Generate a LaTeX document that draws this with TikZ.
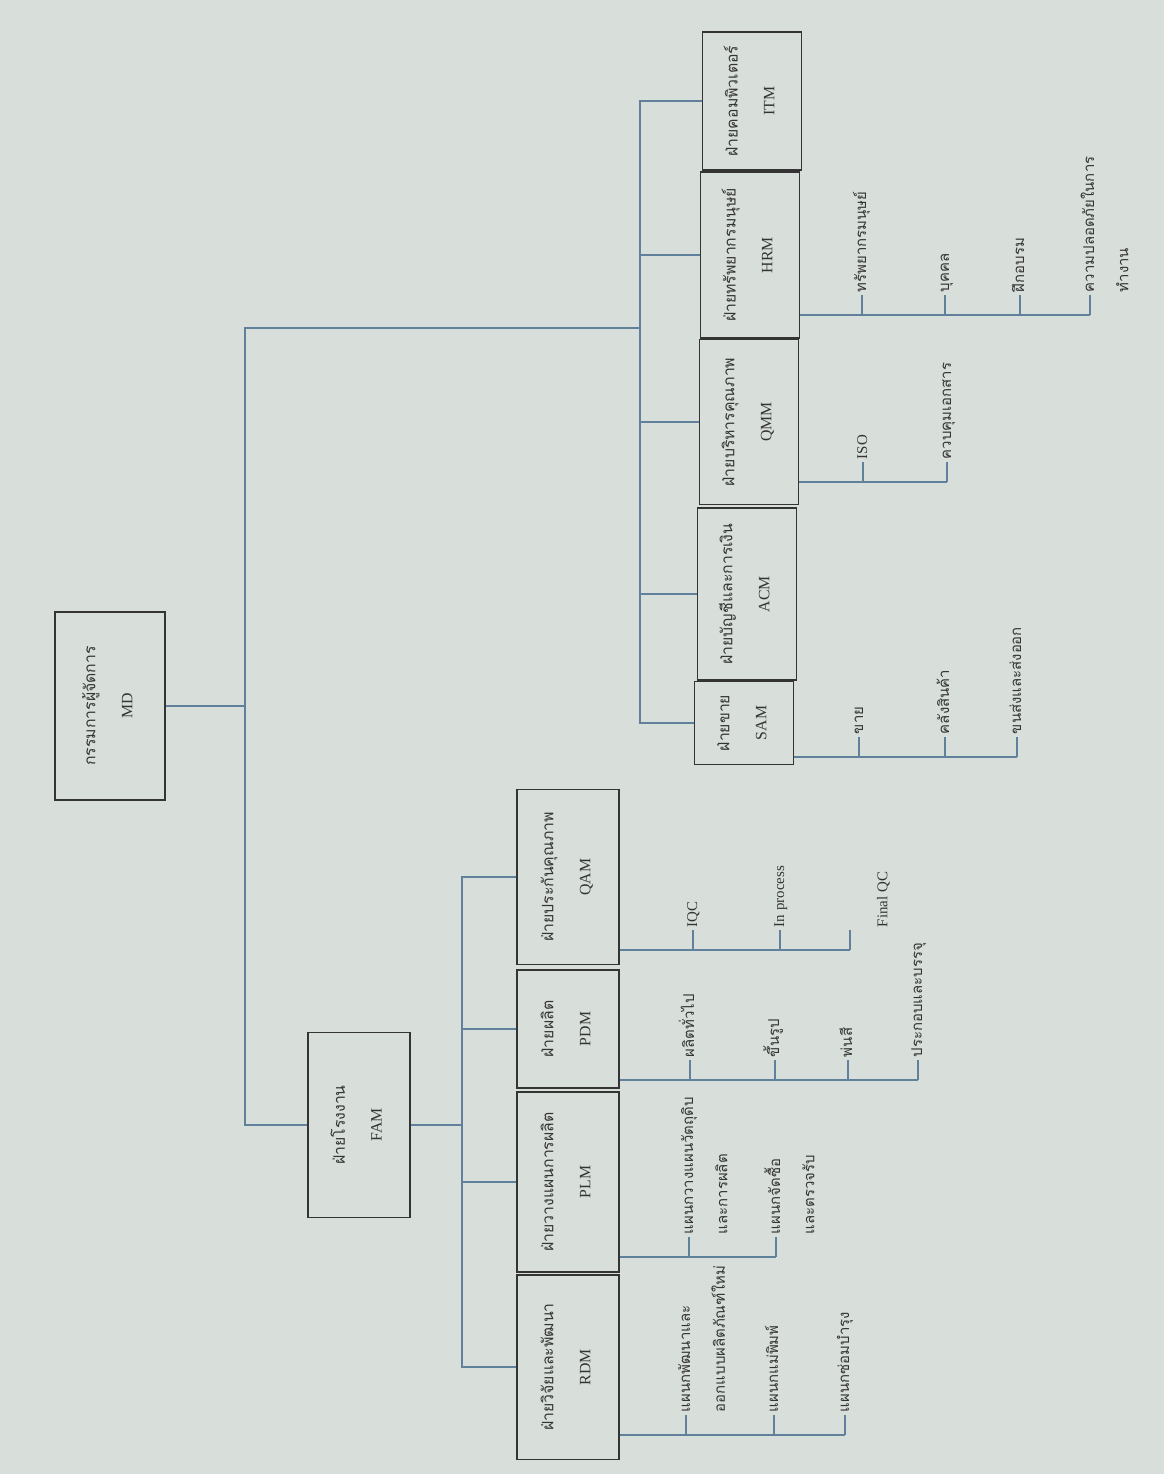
\documentclass[tikz,border=0pt]{standalone}
\usepackage{fontspec}
\setmainfont{Liberation Serif}
\newfontfamily\thaifont[Script=Thai]{Loma}
\usepackage{graphicx}
\usepackage{tikz}
\usetikzlibrary{positioning,calc}
\definecolor{paper}{RGB}{216,223,219}
\definecolor{wire}{RGB}{96,128,156}
\definecolor{ink}{RGB}{52,52,52}
\newcommand\unitbox[2]{\rotatebox{90}{\begin{tabular}{@{}c@{}}{\thaifont #1}\\[10pt] #2\end{tabular}}}
\newcommand\twoline[2]{\begin{tabular}[t]{@{}l@{}}#1\\[9pt] #2\end{tabular}}

\begin{document}
\begin{tikzpicture}[x=0.02cm, y=-0.02cm,
    unit/.style={draw=ink, line width=1.1pt, text=ink, inner sep=0pt,
      minimum width=2.04cm, font=\fontsize{9}{11}\selectfont},
    leaf/.style={rotate=90, anchor=mid west, inner sep=1.5pt, text=ink,
      font=\thaifont\fontsize{8.5}{10.5}\selectfont},
    leafen/.style={leaf, font=\fontsize{8.5}{10}\selectfont},
    link/.style={draw=wire, line width=0.9pt}
  ]
  \useasboundingbox (0,0) rectangle (1164,1474);
  \fill[paper] (0,0) rectangle (1164,1474);

  % top level and the factory
  \node[unit, minimum width=2.2cm, minimum height=3.76cm] (MD) at (110,706) {\unitbox{กรรมการผู้จัดการ}{MD}};
  \node[unit, minimum height=3.7cm] (FAM) at (359,1125) {\unitbox{ฝ่ายโรงงาน}{FAM}};

  % factory units
  \node[unit, minimum height=3.5cm] (QAM) at (568,877) {\unitbox{ฝ่ายประกันคุณภาพ}{QAM}};
  \node[unit, minimum height=2.36cm] (PDM) at (568,1029) {\unitbox{ฝ่ายผลิต}{PDM}};
  \node[unit, minimum height=3.6cm] (PLM) at (568,1182) {\unitbox{ฝ่ายวางแผนการผลิต}{PLM}};
  \node[unit, minimum height=3.7cm] (RDM) at (568,1367) {\unitbox{ฝ่ายวิจัยและพัฒนา}{RDM}};

  % office units
  \node[unit, minimum width=1.98cm, minimum height=2.76cm] (ITM) at (752,101) {\unitbox{ฝ่ายคอมพิวเตอร์}{ITM}};
  \node[unit, minimum width=1.98cm, minimum height=3.32cm] (HRM) at (750,255) {\unitbox{ฝ่ายทรัพยากรมนุษย์}{HRM}};
  \node[unit, minimum width=1.98cm, minimum height=3.3cm] (QMM) at (749,422) {\unitbox{ฝ่ายบริหารคุณภาพ}{QMM}};
  \node[unit, minimum width=1.98cm, minimum height=3.44cm] (ACM) at (747,594) {\unitbox{ฝ่ายบัญชีและการเงิน}{ACM}};
  \node[unit, minimum width=1.98cm, minimum height=1.66cm] (SAM) at (744,723) {\unitbox{ฝ่ายขาย}{SAM}};

  % spines
  \coordinate (spT) at (245,328);
  \coordinate (rsp) at (640,0);
  \coordinate (lsp) at (462,0);
  \draw[link] (MD.east) -- (MD.east -| spT);
  \draw[link] (FAM.west) -- (FAM.west -| spT) -- (spT) -- (spT -| rsp);
  \draw[link] (ITM.west) -- (ITM.west -| rsp) -- (SAM.west -| rsp) -- (SAM.west);
  \foreach \n in {HRM,QMM,ACM}
    \draw[link] (\n.west) -- (\n.west -| rsp);
  \draw[link] (FAM.east) -- (FAM.east -| lsp);
  \draw[link] (QAM.west) -- (QAM.west -| lsp) -- (RDM.west -| lsp) -- (RDM.west);
  \foreach \n in {PDM,PLM}
    \draw[link] (\n.west) -- (\n.west -| lsp);

  % sections of RDM
  \coordinate (rdT) at (845,1435);
  \draw[link] (RDM.east |- rdT) -- (rdT);
  \node[leaf] (rd1) at (686,1415) {\twoline{แผนกพัฒนาและ}{ออกแบบผลิตภัณฑ์ใหม่}};
  \node[leaf] (rd2) at (774,1415) {แผนกแม่พิมพ์};
  \node[leaf] (rd3) at (845,1415) {แผนกซ่อมบำรุง};
  \foreach \n in {rd1,rd2,rd3}
    \draw[link] (\n.mid west) -- (\n.mid west |- rdT);

  % sections of PLM
  \coordinate (plT) at (776,1257);
  \draw[link] (PLM.east |- plT) -- (plT);
  \node[leaf] (pl1) at (689,1237) {\twoline{แผนกวางแผนวัตถุดิบ}{และการผลิต}};
  \node[leaf] (pl2) at (776,1237) {\twoline{แผนกจัดซื้อ}{และตรวจรับ}};
  \foreach \n in {pl1,pl2}
    \draw[link] (\n.mid west) -- (\n.mid west |- plT);

  % sections of PDM
  \coordinate (pdT) at (918,1080);
  \draw[link] (PDM.east |- pdT) -- (pdT);
  \node[leaf] (pd1) at (690,1060) {ผลิตทั่วไป};
  \node[leaf] (pd2) at (775,1060) {ขึ้นรูป};
  \node[leaf] (pd3) at (848,1060) {พ่นสี};
  \node[leaf] (pd4) at (918,1060) {ประกอบและบรรจุ};
  \foreach \n in {pd1,pd2,pd3,pd4}
    \draw[link] (\n.mid west) -- (\n.mid west |- pdT);

  % sections of QAM
  \coordinate (qaT) at (850,950);
  \draw[link] (QAM.east |- qaT) -- (qaT);
  \node[leafen] (qa1) at (693,930) {IQC};
  \node[leafen] (qa2) at (780,930) {In process};
  \node[leafen] (qa3) at (850,930) {\twoline{}{Final QC}};
  \foreach \n in {qa1,qa2,qa3}
    \draw[link] (\n.mid west) -- (\n.mid west |- qaT);

  % sections of SAM
  \coordinate (saT) at (1017,757);
  \draw[link] (SAM.east |- saT) -- (saT);
  \node[leaf] (sa1) at (859,737) {ขาย};
  \node[leaf] (sa2) at (945,737) {คลังสินค้า};
  \node[leaf] (sa3) at (1017,737) {ขนส่งและส่งออก};
  \foreach \n in {sa1,sa2,sa3}
    \draw[link] (\n.mid west) -- (\n.mid west |- saT);

  % sections of QMM
  \coordinate (qmT) at (947,482);
  \draw[link] (QMM.east |- qmT) -- (qmT);
  \node[leafen] (qm1) at (863,462) {ISO};
  \node[leaf] (qm2) at (947,462) {ควบคุมเอกสาร};
  \foreach \n in {qm1,qm2}
    \draw[link] (\n.mid west) -- (\n.mid west |- qmT);

  % sections of HRM
  \coordinate (hrT) at (1090,315);
  \draw[link] (HRM.east |- hrT) -- (hrT);
  \node[leaf] (hr1) at (862,295) {ทรัพยากรมนุษย์};
  \node[leaf] (hr2) at (945,295) {บุคคล};
  \node[leaf] (hr3) at (1020,295) {ฝึกอบรม};
  \node[leaf] (hr4) at (1090,295) {\twoline{ความปลอดภัยในการ}{ทำงาน}};
  \foreach \n in {hr1,hr2,hr3,hr4}
    \draw[link] (\n.mid west) -- (\n.mid west |- hrT);
\end{tikzpicture}
\end{document}
